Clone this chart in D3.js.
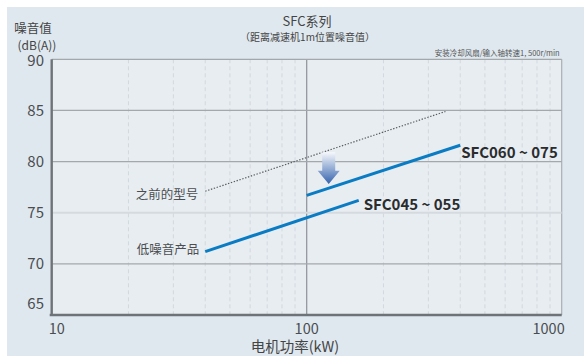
<!DOCTYPE html>
<html><head><meta charset="utf-8">
<script src="https://cdn.jsdelivr.net/npm/d3@7"></script>
<style>
html,body{margin:0;padding:0;background:#fff;}
text{font-family:"Noto Sans CJK SC","Noto Sans",sans-serif;}
</style></head>
<body>
<svg id="c" width="584" height="356"></svg>
<script>
// ---- data ----
const yTicks = [65, 70, 75, 80, 85, 90];
const xTicks = [10, 100, 1000];
const xMinor = [20,30,40,50,60,70,80,90,200,300,400,500,600,700,800,900];
const prevPower = [40, 350];
const prevNoise = [77.1, 84.9];
const lowPower = [40, 160];
const lowNoise = [71.2, 76.2];
const highPower = [100, 400];
const highNoise = [76.7, 81.6];
const seriesLabels = ["之前的型号", "低噪音产品", "SFC045 ~ 055", "SFC060 ~ 075"];
const arrowPower = 122;
const arrowNoise = [80.9, 79.1, 77.8]; // top, head start, tip

const svg = d3.select("#c");
const x = d3.scaleLog().domain([10, 1000]).range([51.7, 561.7]);
const y = d3.scaleLinear().domain([65, 90]).range([315, 59.3]);

// panel
svg.append("rect").attr("x", 7).attr("y", 7).attr("width", 577).attr("height", 349).attr("fill", "#dfe8ef");
// plot bg
svg.append("rect").attr("x", x(10)).attr("y", y(90)).attr("width", x(1000) - x(10)).attr("height", y(65) - y(90)).attr("fill", "#e8edf2");

// minor vertical dashed grid
svg.selectAll(".vminor").data(xMinor).join("line")
  .attr("x1", d => x(d)).attr("x2", d => x(d)).attr("y1", y(90)).attr("y2", y(65))
  .attr("stroke", "#d2d8de").attr("stroke-width", 1).attr("stroke-dasharray", "4,3");
// vertical at 100 and right border
svg.selectAll(".vmajor").data([100, 1000]).join("line")
  .attr("x1", d => x(d)).attr("x2", d => x(d)).attr("y1", y(90)).attr("y2", y(65))
  .attr("stroke", d => d === 100 ? "#8c9297" : "#a9aeb3").attr("stroke-width", 1.2);
// horizontal grid
svg.selectAll(".hgrid").data(yTicks.filter(d => d > 65)).join("line")
  .attr("x1", x(10)).attr("x2", x(1000)).attr("y1", d => y(d)).attr("y2", d => y(d))
  .attr("stroke", d => d === 75 ? "#d5dadf" : "#a3a8ad").attr("stroke-width", d => d === 75 ? 2 : 1.2);

// axes
svg.append("line").attr("x1", x(10)).attr("x2", x(10)).attr("y1", y(90)).attr("y2", y(65))
  .attr("stroke", "#6e7378").attr("stroke-width", 2.4);
svg.append("line").attr("x1", x(10) - 2).attr("x2", x(1000)).attr("y1", y(65)).attr("y2", y(65))
  .attr("stroke", "#6e7378").attr("stroke-width", 2.4);

// y tick labels
svg.selectAll(".ylab").data(yTicks).join("text")
  .attr("x", 44).attr("y", d => y(d) + (d === 65 ? -11 : d === 90 ? 1 : 0))
  .attr("dy", "0.35em").attr("text-anchor", "end")
  .attr("font-size", 15).attr("fill", "#4a4d50").text(d => d);
// x tick labels
svg.selectAll(".xlab").data(xTicks).join("text")
  .attr("x", d => d === 10 ? x(d) - 3 : d === 1000 ? x(d) + 3 : x(d))
  .attr("y", 328.5).attr("dy", "0.35em")
  .attr("text-anchor", d => d === 10 ? "start" : d === 1000 ? "end" : "middle")
  .attr("font-size", 14.5).attr("fill", "#4a4d50").text(d => d);

// titles
svg.append("text").attr("x", 307).attr("y", 21).attr("dy", "0.35em").attr("text-anchor", "middle")
  .attr("font-size", 13).attr("fill", "#444").text("SFC系列");
svg.append("text").attr("x", 307.5).attr("y", 37).attr("dy", "0.35em").attr("text-anchor", "middle")
  .attr("font-size", 10).attr("fill", "#444").text("（距离减速机1m位置噪音值）");
svg.append("text").attr("x", 33).attr("y", 28.5).attr("dy", "0.35em").attr("text-anchor", "middle")
  .attr("font-size", 12.5).attr("fill", "#444").text("噪音值");
svg.append("text").attr("x", 37).attr("y", 46).attr("dy", "0.35em").attr("text-anchor", "middle")
  .attr("font-size", 12).attr("fill", "#444").text("(dB(A))");
svg.append("text").attr("x", 559.7).attr("y", 53.5).attr("dy", "0.35em").attr("text-anchor", "end")
  .attr("font-size", 7.5).attr("fill", "#555").text("安装冷却风扇/输入轴转速1, 500r/min");
svg.append("text").attr("x", 295).attr("y", 346.5).attr("dy", "0.35em").attr("text-anchor", "middle")
  .attr("font-size", 14.5).attr("fill", "#444").text("电机功率(kW)");

const line = d3.line().x(d => x(d[0])).y(d => y(d[1]));
// previous model dotted
svg.append("path").datum(d3.zip(prevPower, prevNoise)).attr("d", line)
  .attr("fill", "none").attr("stroke", "#5a5d60").attr("stroke-width", 1.2).attr("stroke-dasharray", "1.4,1.6");
// low-noise lines
svg.append("path").datum(d3.zip(lowPower, lowNoise)).attr("d", line)
  .attr("fill", "none").attr("stroke", "#0a7cc4").attr("stroke-width", 3);
svg.append("path").datum(d3.zip(highPower, highNoise)).attr("d", line)
  .attr("fill", "none").attr("stroke", "#0a7cc4").attr("stroke-width", 3);

// arrow with gradient
const defs = svg.append("defs");
const g = defs.append("linearGradient").attr("id", "ag").attr("x1", 0).attr("y1", 0).attr("x2", 0).attr("y2", 1);
g.append("stop").attr("offset", "0%").attr("stop-color", "#f6f8fc");
g.append("stop").attr("offset", "100%").attr("stop-color", "#3463ad");
const ax = x(arrowPower), aTop = y(arrowNoise[0]), aHead = y(arrowNoise[1]), aTip = y(arrowNoise[2]);
const p = d3.path();
p.moveTo(ax - 6.5, aTop); p.lineTo(ax + 6.5, aTop); p.lineTo(ax + 6.5, aHead);
p.lineTo(ax + 11, aHead); p.lineTo(ax, aTip); p.lineTo(ax - 11, aHead); p.lineTo(ax - 6.5, aHead); p.closePath();
svg.append("path").attr("d", p.toString()).attr("fill", "url(#ag)");

// series labels
svg.append("text").attr("x", x(prevPower[0]) - 7).attr("y", y(prevNoise[0]) + 3).attr("dy", "0.35em")
  .attr("text-anchor", "end").attr("font-size", 12.5).attr("fill", "#4a4d50").text(seriesLabels[0]);
svg.append("text").attr("x", x(lowPower[0]) - 6).attr("y", y(lowNoise[0]) - 1.5).attr("dy", "0.35em")
  .attr("text-anchor", "end").attr("font-size", 12.5).attr("fill", "#4a4d50").text(seriesLabels[1]);
svg.append("text").attr("x", x(lowPower[1]) + 5).attr("y", y(lowNoise[1]) + 4).attr("dy", "0.35em")
  .attr("text-anchor", "start").attr("font-size", 15).attr("font-weight", "bold").attr("fill", "#2a2c2e").text(seriesLabels[2]);
svg.append("text").attr("x", x(highPower[1]) + 1).attr("y", y(highNoise[1]) + 8).attr("dy", "0.35em")
  .attr("text-anchor", "start").attr("font-size", 15).attr("font-weight", "bold").attr("fill", "#2a2c2e").text(seriesLabels[3]);
</script>
</body></html>
